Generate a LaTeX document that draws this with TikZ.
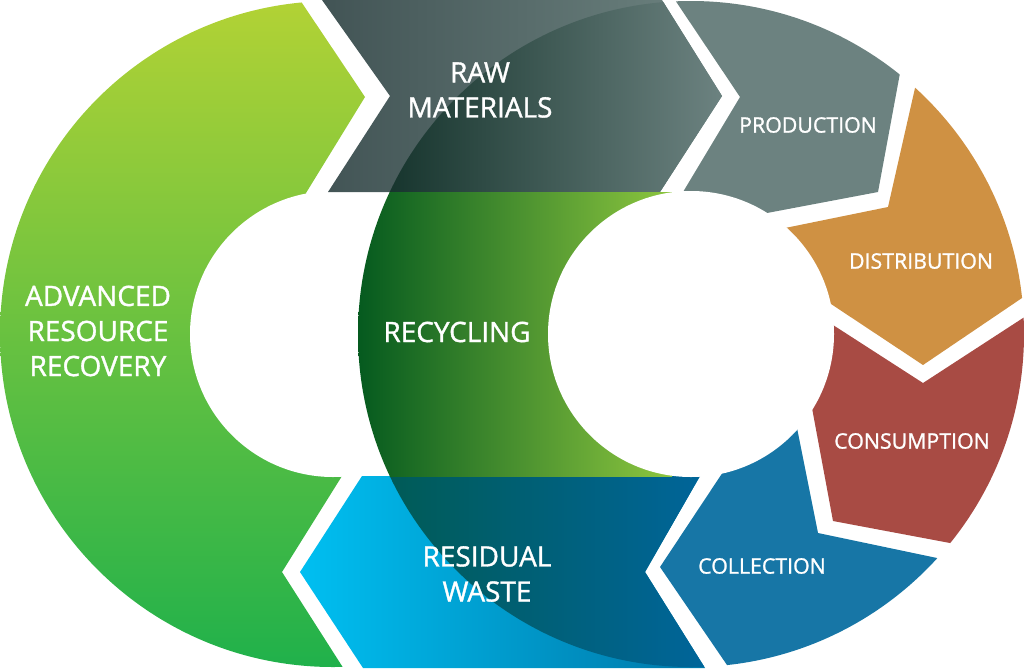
\documentclass[tikz,border=0pt]{standalone}
\usepackage{fontspec}
\setmainfont{Open Sans}
\newfontfamily\lblfont[FakeBold=1.2]{Open Sans}
\definecolor{grTop}{HTML}{B2D235}
\definecolor{grBot}{HTML}{20B14B}
\definecolor{rawL}{HTML}{425455}
\definecolor{rawR}{HTML}{6E8481}
\definecolor{rawInL}{HTML}{0F2E26}
\definecolor{rawInR}{HTML}{6C8280}
\definecolor{recL}{HTML}{055A1F}
\definecolor{recR}{HTML}{8DC63F}
\definecolor{resL}{HTML}{00BFF1}
\definecolor{resR}{HTML}{0077A8}
\definecolor{resInL}{HTML}{005A50}
\definecolor{resInR}{HTML}{00659A}
\definecolor{prodC}{HTML}{6C8280}
\definecolor{distC}{HTML}{CF9143}
\definecolor{consC}{HTML}{A84B44}
\definecolor{collC}{HTML}{1776A6}
\begin{document}
\begin{tikzpicture}[x=0.75pt,y=-0.75pt,
  lbl/.style={text=white, align=center, inner sep=0pt},
  biglbl/.style={lbl, font=\lblfont\fontsize{21}{26.3}\selectfont},
  smalllbl/.style={lbl, font=\lblfont\fontsize{16}{19}\selectfont}]
\useasboundingbox (0,0) rectangle (1024,668);
\coordinate (L) at (333,334);
\coordinate (R) at (691,334);
% green ring half
\begin{scope}
  \clip (333,334) -- (306,193) -- (365,97) -- (300,0) -- (280,-30) -- (-30,-30)
        -- (-30,704) -- (366,704) -- (342,666) -- (282,572) -- (342,476) -- cycle;
  \shade[top color=grTop, bottom color=grBot] (L) circle (333);
\end{scope}
\fill[white] (L) circle (143);
% raw materials band
\path[left color=rawL, right color=rawR]
  (322,0) -- (662,0) -- (722,96) -- (660,192) -- (328,192) -- (390,96) -- cycle;
\begin{scope}
  \clip (322,0) -- (662,0) -- (722,96) -- (660,192) -- (328,192) -- (390,96) -- cycle;
  \clip (R) circle (333);
  \shade[left color=rawInL, right color=rawInR] (358,0) rectangle (722,192);
\end{scope}
% residual waste band
\path[left color=resL, right color=resR]
  (362,476) -- (700,476) -- (645,572) -- (705,668) -- (363,668) -- (300,572) -- cycle;
\begin{scope}
  \clip (362,476) -- (700,476) -- (645,572) -- (705,668) -- (363,668) -- (300,572) -- cycle;
  \clip (R) circle (333);
  \shade[left color=resInL, right color=resInR] (358,476) rectangle (705,668);
\end{scope}
% recycling
\begin{scope}
  \clip (0,192) rectangle (691,476);
  \clip (R) circle (333);
  \shade[left color=recL, right color=recR] (358,192) rectangle (672,476);
\end{scope}
% right segments
\begin{scope}
  \clip (R) circle (333);
  \fill[prodC] (691,334) -- (683,192) -- (740,97) -- (675,0) -- (655,-30) -- (919,-30)
     -- (900,73) -- (878,192) -- (767,213) -- cycle;
  \fill[distC] (691,334) -- (785,228) -- (888,207) -- (915,88) -- (926,40) -- (1080,150)
     -- (1062,271) -- (1022,298) -- (923,365) -- (828,302) -- cycle;
  \fill[consC] (691,334) -- (833,325) -- (923,383) -- (1023,318) -- (1063,292) -- (1100,420)
     -- (997,552) -- (950,543) -- (833,521) -- (812,408) -- cycle;
  \fill[collC] (691,334) -- (797,428) -- (818,533) -- (937,558) -- (985,568) -- (900,720)
     -- (754,704) -- (727,665) -- (660,567) -- (723,472) -- cycle;
\end{scope}
\fill[white] (R) circle (143);
% labels
\node[biglbl] (raw) at (480,90) {RAW\\MATERIALS};
\node[biglbl] (arr) at (98,331) {ADVANCED\\RESOURCE\\RECOVERY};
\node[biglbl] (rec) at (457,332) {RECYCLING};
\node[biglbl] (res) at (487,574) {RESIDUAL\\WASTE};
\node[smalllbl] (pro) at (808,125) {PRODUCTION};
\node[smalllbl] (dis) at (921,261) {DISTRIBUTION};
\node[smalllbl] (con) at (912,441) {CONSUMPTION};
\node[smalllbl] (col) at (762,566) {COLLECTION};
\end{tikzpicture}
\end{document}
